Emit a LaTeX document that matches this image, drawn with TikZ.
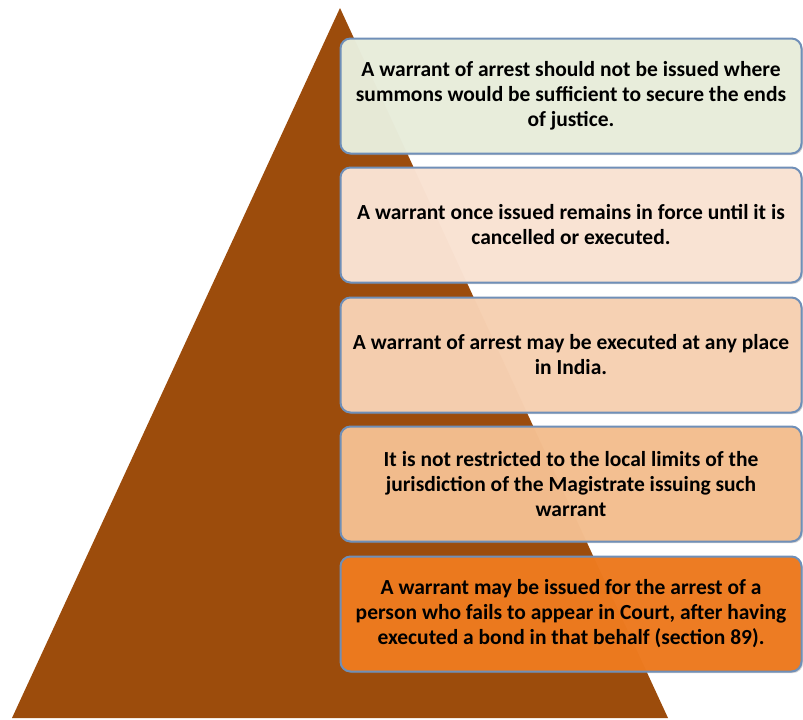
\documentclass[tikz,border=0pt]{standalone}
\usepackage{fontspec}
\setmainfont{Carlito}
\usetikzlibrary{shadows}
\definecolor{pyr}{HTML}{9C4C0C}
\definecolor{bord}{HTML}{6F8FB8}
\definecolor{cA}{HTML}{E9EEDC}
\definecolor{cB}{HTML}{FBE4D4}
\definecolor{cC}{HTML}{F8D1B2}
\definecolor{cD}{HTML}{F5BF8F}
\definecolor{cE}{HTML}{EE7A1E}
\tikzset{
  infobox/.style={rectangle, rounded corners=10pt, draw=bord, line width=2pt,
    minimum width=461pt, minimum height=115pt, inner sep=2pt, align=center,
    fill opacity=0.97, text opacity=1,
    font=\fontsize{21.5}{25}\selectfont\bfseries,
    drop shadow={shadow xshift=1.5pt, shadow yshift=-1.5pt, opacity=0.35}}
}
\begin{document}
\begin{tikzpicture}[x=1pt,y=-1pt]
\useasboundingbox (0,0) rectangle (803,720);
\fill[white] (0,0) rectangle (803,720);
\fill[pyr] (340,8) -- (668,718) -- (12,718) -- cycle;
\node[infobox, fill=cA] (b1) at (571,96) {A warrant of arrest should not be issued where\\summons would be sufficient to secure the ends\\of justice.};
\node[infobox, fill=cB] (b2) at (571,225) {A warrant once issued remains in force until it is\\cancelled or executed.};
\node[infobox, fill=cC] (b3) at (571,355) {A warrant of arrest may be executed at any place\\in India.};
\node[infobox, fill=cD] (b4) at (571,484) {It is not restricted to the local limits of the\\jurisdiction of the Magistrate issuing such\\warrant};
\node[infobox, fill=cE] (b5) at (571,614) {A warrant may be issued for the arrest of a\\person who fails to appear in Court, after having\\executed a bond in that behalf (section 89).};
\end{tikzpicture}
\end{document}
